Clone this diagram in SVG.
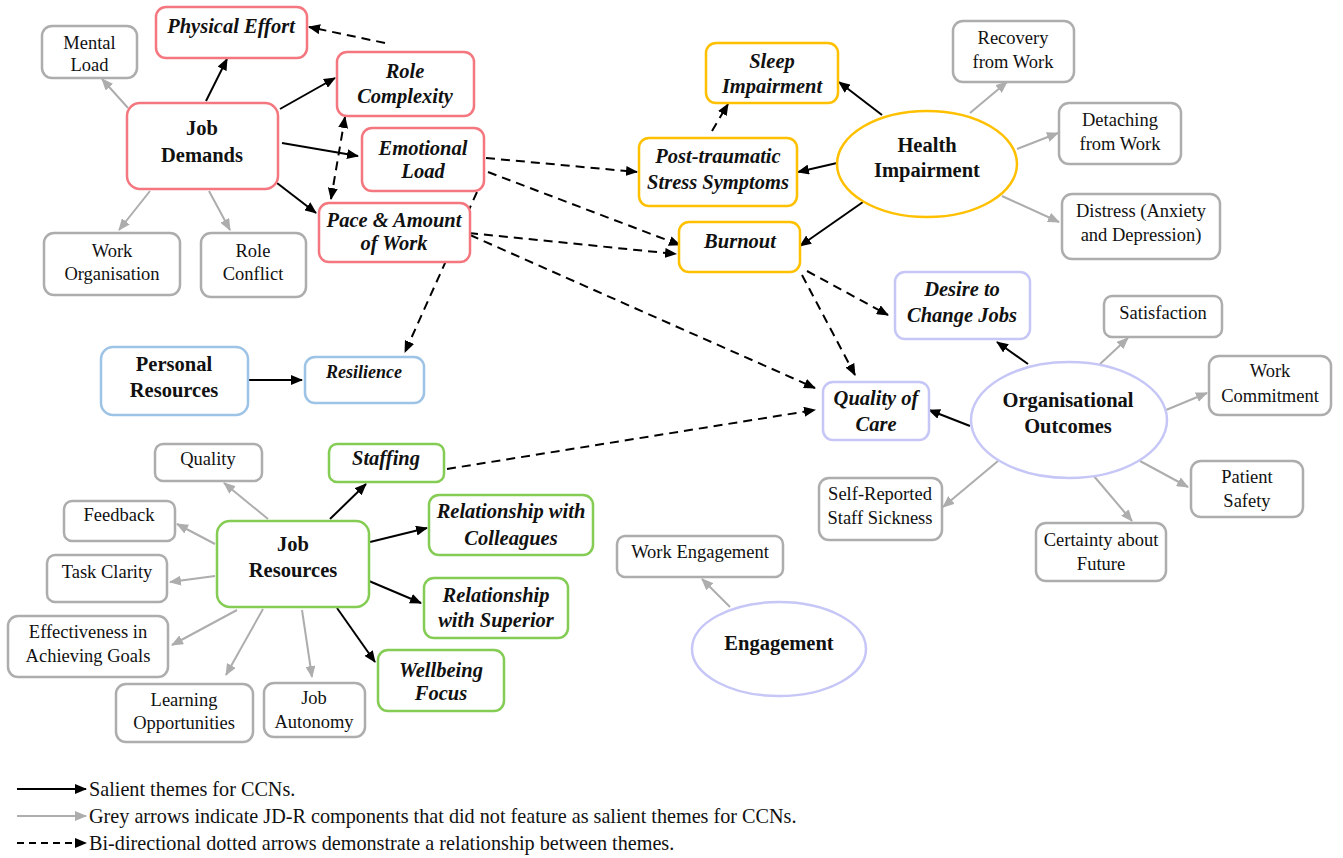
<svg xmlns="http://www.w3.org/2000/svg" width="1343" height="858" viewBox="0 0 1343 858">
<style>
.box{fill:#fff;stroke-width:2.5}
.red{stroke:#F4777F}
.yel{stroke:#FFC000}
.pur{stroke:#C6C6F7}
.blu{stroke:#9DC3E6}
.grn{stroke:#84CC54}
.gry{stroke:#ADADAD}
text{font-family:"Liberation Serif","Times New Roman",serif;fill:#111;text-anchor:middle}
.t{font-size:18.5px}
.b{font-size:20.5px;font-weight:bold}
.bi{font-size:20.5px;font-weight:bold;font-style:italic}
.ls{font-size:20.2px;text-anchor:start}
.k{stroke:#000;stroke-width:2;fill:none;marker-end:url(#ak)}
.g{stroke:#ADADAD;stroke-width:2;fill:none;marker-end:url(#ag)}
.d{stroke:#000;stroke-width:2;fill:none;stroke-dasharray:9,6;marker-end:url(#ak)}
</style>
<defs>
<marker id="ak" viewBox="0 0 12 10" refX="11" refY="5" markerWidth="12" markerHeight="10" markerUnits="userSpaceOnUse" orient="auto-start-reverse"><path d="M0,0 L12,5 L0,10 Z" fill="#000"/></marker>
<marker id="ag" viewBox="0 0 12 10" refX="11" refY="5" markerWidth="12" markerHeight="10" markerUnits="userSpaceOnUse" orient="auto"><path d="M0,0 L12,5 L0,10 Z" fill="#ADADAD"/></marker>
</defs>
<rect width="1343" height="858" fill="#fff"/>
<g id="connectors">
<line class="k" x1="206" y1="101" x2="227" y2="59"/>
<line class="k" x1="280" y1="109" x2="335" y2="78"/>
<line class="k" x1="282" y1="143" x2="358" y2="156"/>
<line class="k" x1="277" y1="183" x2="316" y2="213"/>
<line class="g" x1="128" y1="108" x2="102" y2="79"/>
<line class="g" x1="150" y1="191" x2="119" y2="230"/>
<line class="g" x1="209" y1="191" x2="230" y2="230"/>
<line class="d" x1="345" y1="117" x2="331" y2="199" style="marker-start:url(#ak)"/>
<line class="d" x1="385" y1="43" x2="309" y2="27"/>
<line class="d" x1="486" y1="158" x2="637" y2="172"/>
<line class="d" x1="488" y1="172" x2="680" y2="245"/>
<line class="d" x1="469" y1="233" x2="676" y2="254"/>
<line class="d" x1="470" y1="235" x2="815" y2="388"/>
<line class="d" x1="447" y1="469" x2="815" y2="410"/>
<line class="d" x1="477" y1="192" x2="405" y2="352"/>
<line class="d" x1="712" y1="131" x2="728" y2="104"/>
<line class="d" x1="807" y1="271" x2="888" y2="315"/>
<line class="d" x1="802" y1="275" x2="855" y2="375"/>
<line class="k" x1="882" y1="115" x2="839" y2="82"/>
<line class="k" x1="837" y1="163" x2="798" y2="172"/>
<line class="k" x1="863" y1="202" x2="800" y2="246"/>
<line class="g" x1="970" y1="113" x2="1007" y2="82"/>
<line class="g" x1="1017" y1="149" x2="1058" y2="133"/>
<line class="g" x1="1002" y1="196" x2="1059" y2="222"/>
<line class="k" x1="1028" y1="364" x2="997" y2="342"/>
<line class="k" x1="970" y1="426" x2="929" y2="410"/>
<line class="g" x1="1100" y1="364" x2="1128" y2="338"/>
<line class="g" x1="1166" y1="410" x2="1207" y2="393"/>
<line class="g" x1="1140" y1="461" x2="1188" y2="487"/>
<line class="g" x1="1093" y1="475" x2="1132" y2="521"/>
<line class="g" x1="998" y1="461" x2="943" y2="507"/>
<line class="g" x1="730" y1="607" x2="702" y2="579"/>
<line class="k" x1="248" y1="380" x2="302" y2="380"/>
<line class="k" x1="330" y1="519" x2="366" y2="484"/>
<line class="k" x1="370" y1="542" x2="427" y2="528"/>
<line class="k" x1="369" y1="581" x2="421" y2="603"/>
<line class="k" x1="337" y1="608" x2="375" y2="662"/>
<line class="g" x1="268" y1="519" x2="224" y2="483"/>
<line class="g" x1="215" y1="544" x2="177" y2="524"/>
<line class="g" x1="215" y1="576" x2="170" y2="582"/>
<line class="g" x1="237" y1="610" x2="172" y2="645"/>
<line class="g" x1="263" y1="609" x2="226" y2="675"/>
<line class="g" x1="302" y1="610" x2="312" y2="677"/>
</g>
<g id="mental-load"><rect class="box gry" x="42" y="26" width="95" height="52" rx="10"/><text class="t" x="89.5" y="49">Mental</text><text class="t" x="89.5" y="71">Load</text></g>
<g id="physical-effort"><rect class="box red" x="156" y="7" width="151" height="51" rx="10"/><text class="bi" x="231" y="33">Physical Effort</text></g>
<g id="job-demands"><rect class="box red" x="127" y="103" width="151" height="86" rx="13"/><text class="b" x="202" y="135">Job</text><text class="b" x="202" y="162">Demands</text></g>
<g id="role-complexity"><rect class="box red" x="337" y="52" width="137" height="64" rx="10"/><text class="bi" x="405" y="78">Role</text><text class="bi" x="405" y="103">Complexity</text></g>
<g id="emotional-load"><rect class="box red" x="362" y="128" width="122" height="63" rx="10"/><text class="bi" x="423" y="155">Emotional</text><text class="bi" x="423" y="178">Load</text></g>
<g id="pace-amount"><rect class="box red" x="319" y="203" width="151" height="59" rx="10"/><text class="bi" x="394" y="227">Pace &amp; Amount</text><text class="bi" x="394" y="250">of Work</text></g>
<g id="work-organisation"><rect class="box gry" x="44" y="233" width="136" height="62" rx="10"/><text class="t" x="112" y="257">Work</text><text class="t" x="112" y="280">Organisation</text></g>
<g id="role-conflict"><rect class="box gry" x="201" y="233" width="105" height="64" rx="10"/><text class="t" x="253" y="257">Role</text><text class="t" x="253" y="280">Conflict</text></g>
<g id="sleep-impairment"><rect class="box yel" x="706" y="43" width="132" height="60" rx="10"/><text class="bi" x="772" y="68">Sleep</text><text class="bi" x="772" y="93">Impairment</text></g>
<g id="ptss"><rect class="box yel" x="639" y="138" width="158" height="68" rx="10"/><text class="bi" x="718" y="163">Post-traumatic</text><text class="bi" x="718" y="189">Stress Symptoms</text></g>
<g id="burnout"><rect class="box yel" x="679" y="222" width="121" height="50" rx="10"/><text class="bi" x="740" y="248">Burnout</text></g>
<g id="health-impairment"><ellipse class="box yel" cx="927" cy="164" rx="90" ry="53"/><text class="b" x="927" y="152">Health</text><text class="b" x="927" y="177">Impairment</text></g>
<g id="recovery"><rect class="box gry" x="953" y="21" width="121" height="61" rx="10"/><text class="t" x="1013" y="44">Recovery</text><text class="t" x="1013" y="68">from Work</text></g>
<g id="detaching"><rect class="box gry" x="1059" y="103" width="122" height="61" rx="10"/><text class="t" x="1120" y="126">Detaching</text><text class="t" x="1120" y="150">from Work</text></g>
<g id="distress"><rect class="box gry" x="1062" y="194" width="158" height="65" rx="10"/><text class="t" x="1141" y="217">Distress (Anxiety</text><text class="t" x="1141" y="241">and Depression)</text></g>
<g id="desire-change"><rect class="box pur" x="895" y="272" width="135" height="67" rx="10"/><text class="bi" x="962" y="296">Desire to</text><text class="bi" x="962" y="322">Change Jobs</text></g>
<g id="satisfaction"><rect class="box gry" x="1104" y="296" width="118" height="41" rx="8"/><text class="t" x="1163" y="319">Satisfaction</text></g>
<g id="work-commitment"><rect class="box gry" x="1209" y="356" width="122" height="59" rx="10"/><text class="t" x="1270" y="377">Work</text><text class="t" x="1270" y="402">Commitment</text></g>
<g id="quality-care"><rect class="box pur" x="823" y="382" width="106" height="58" rx="10"/><text class="bi" x="876" y="405">Quality of</text><text class="bi" x="876" y="431">Care</text></g>
<g id="organisational-outcomes"><ellipse class="box pur" cx="1069" cy="420" rx="98" ry="58"/><text class="b" x="1068" y="407">Organisational</text><text class="b" x="1068" y="433">Outcomes</text></g>
<g id="self-reported"><rect class="box gry" x="819" y="478" width="123" height="62" rx="10"/><text class="t" x="880" y="500">Self-Reported</text><text class="t" x="880" y="524">Staff Sickness</text></g>
<g id="patient-safety"><rect class="box gry" x="1191" y="461" width="112" height="56" rx="10"/><text class="t" x="1247" y="483">Patient</text><text class="t" x="1247" y="507">Safety</text></g>
<g id="certainty"><rect class="box gry" x="1036" y="523" width="130" height="58" rx="10"/><text class="t" x="1101" y="546">Certainty about</text><text class="t" x="1101" y="570">Future</text></g>
<g id="personal-resources"><rect class="box blu" x="101" y="347" width="147" height="68" rx="12"/><text class="b" x="174" y="371">Personal</text><text class="b" x="174" y="397">Resources</text></g>
<g id="resilience"><rect class="box blu" x="305" y="357" width="119" height="46" rx="10"/><text class="bi" x="364" y="378" style="font-size:18px">Resilience</text></g>
<g id="staffing"><rect class="box grn" x="329" y="444" width="115" height="38" rx="8"/><text class="bi" x="386" y="465">Staffing</text></g>
<g id="job-resources"><rect class="box grn" x="217" y="521" width="152" height="86" rx="13"/><text class="b" x="293" y="551">Job</text><text class="b" x="293" y="577">Resources</text></g>
<g id="quality"><rect class="box gry" x="155" y="444" width="107" height="37" rx="8"/><text class="t" x="208" y="465">Quality</text></g>
<g id="feedback"><rect class="box gry" x="64" y="501" width="111" height="40" rx="8"/><text class="t" x="119" y="521">Feedback</text></g>
<g id="task-clarity"><rect class="box gry" x="47" y="555" width="120" height="47" rx="8"/><text class="t" x="107" y="578">Task Clarity</text></g>
<g id="effectiveness"><rect class="box gry" x="8" y="616" width="160" height="61" rx="10"/><text class="t" x="88" y="638">Effectiveness in</text><text class="t" x="88" y="662">Achieving Goals</text></g>
<g id="learning"><rect class="box gry" x="116" y="684" width="137" height="58" rx="10"/><text class="t" x="184" y="706">Learning</text><text class="t" x="184" y="729">Opportunities</text></g>
<g id="job-autonomy"><rect class="box gry" x="264" y="683" width="101" height="54" rx="10"/><text class="t" x="314" y="704">Job</text><text class="t" x="314" y="728">Autonomy</text></g>
<g id="rel-colleagues"><rect class="box grn" x="429" y="495" width="164" height="60" rx="10"/><text class="bi" x="511" y="518">Relationship with</text><text class="bi" x="511" y="545">Colleagues</text></g>
<g id="rel-superior"><rect class="box grn" x="424" y="578" width="144" height="60" rx="10"/><text class="bi" x="496" y="602">Relationship</text><text class="bi" x="496" y="627">with Superior</text></g>
<g id="wellbeing"><rect class="box grn" x="378" y="650" width="126" height="61" rx="10"/><text class="bi" x="441" y="677">Wellbeing</text><text class="bi" x="441" y="700">Focus</text></g>
<g id="work-engagement"><rect class="box gry" x="617" y="536" width="166" height="41" rx="8"/><text class="t" x="700" y="558">Work Engagement</text></g>
<g id="engagement"><ellipse class="box pur" cx="779" cy="649" rx="87" ry="47"/><text class="b" x="779" y="650">Engagement</text></g>
<g id="legend">
<line class="k" x1="17" y1="789" x2="86" y2="789"/>
<line class="g" x1="17" y1="816" x2="86" y2="816"/>
<line class="d" x1="17" y1="843" x2="86" y2="843" style="stroke-dasharray:7,5"/>
<text class="ls" x="89" y="796">Salient themes for CCNs.</text>
<text class="ls" x="89" y="823">Grey arrows indicate JD-R components that did not feature as salient themes for CCNs.</text>
<text class="ls" x="89" y="850">Bi-directional dotted arrows demonstrate a relationship between themes.</text>
</g>
</svg>
